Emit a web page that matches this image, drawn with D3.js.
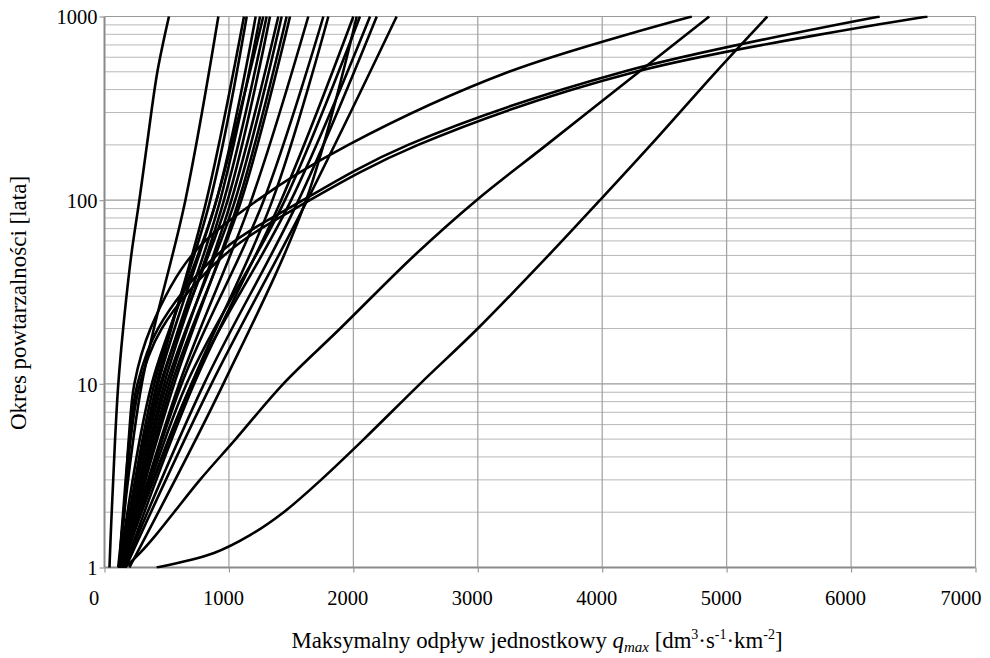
<!DOCTYPE html>
<html><head><meta charset="utf-8">
<script src="https://cdn.jsdelivr.net/npm/d3@7"></script>
<style>
body{margin:0;background:#fff}
svg{display:block}
text{font-family:"Liberation Serif","Times New Roman",serif;fill:#000}
</style>
</head><body>
<svg id="chart" width="990" height="658"></svg>
<script>
// Return period levels [years] at which discharge values were read
const returnPeriods = [1, 1.2, 1.5, 2, 3, 5, 10, 20, 50, 100, 200, 500, 1000];
const xTickValues = [0, 1000, 2000, 3000, 4000, 5000, 6000, 7000];
const yTickValues = [1, 10, 100, 1000];
const xTitleMain = "Maksymalny odpływ jednostkowy ";
const yTitle = "Okres powtarzalności [lata]";

// q_max values [dm3/s/km2] for each catchment at the return periods above (null = not read)
const qCurve01 = [40, null, 50, 58, 70, 85, 111, 150, 215, 280, 341, 425, 518];
const qCurve02 = [120, null, 140, 160, 175, 195, 240, 370, 700, 1230, 1960, 3250, 4720];
const qCurve03 = [120, null, 135, 150, 170, 200, 265, 430, 900, 1595, 2440, 4170, 6230];
const qCurve04 = [125, null, 140, 155, 180, 210, 285, 460, 960, 1650, 2520, 4270, 6614];
const qCurve05 = [165, 286, 412, 559, 767, 1054, 1437, 1894, 2490, 2990, 3553, 4297, 4860];
const qCurve06 = [419, 880, 1170, 1440, 1740, 2085, 2536, 3000, 3568, 3982, 4390, 4915, 5327];
const qCurve07 = [110, null, null, null, null, null, 300, null, null, 650, null, null, 915];
const qCurve08 = [120, null, null, null, null, null, 420, null, null, 820, null, null, 1121];
const qCurve09 = [130, null, null, null, null, null, 400, null, null, 850, null, null, 1143];
const qCurve10 = [120, null, null, null, null, null, 380, null, null, 900, null, null, 1215];
const qCurve11 = [140, null, null, null, null, null, 460, null, null, 930, null, null, 1250];
const qCurve12 = [130, null, null, null, null, null, 430, null, null, 900, null, null, 1276];
const qCurve13 = [150, null, null, null, null, null, 480, null, null, 960, null, null, 1303];
const qCurve14 = [120, null, null, null, null, null, 450, null, null, 990, null, null, 1330];
const qCurve15 = [140, null, null, null, null, null, 520, null, null, 1020, null, null, 1397];
const qCurve16 = [150, null, null, null, null, null, 500, null, null, 1050, null, null, 1424];
const qCurve17 = [130, null, null, null, null, null, 560, null, null, 1080, null, null, 1464];
const qCurve18 = [160, null, null, null, null, null, 540, null, null, 1100, null, null, 1491];
const qCurve19 = [140, null, null, null, null, null, 600, null, null, 1180, null, null, 1638];
const qCurve20 = [150, null, null, null, null, null, 620, null, null, 1280, null, null, 1759];
const qCurve21 = [130, null, null, null, null, null, 700, null, null, 1350, null, null, 1799];
const qCurve22 = [160, null, null, null, null, null, 720, null, null, 1420, null, null, 2000];
const qCurve23 = [200, null, null, null, null, null, 955, null, null, 1620, null, null, 2027];
const qCurve24 = [150, null, null, null, null, null, 660, null, null, 1450, null, null, 2053];
const qCurve25 = [140, null, null, null, null, null, 700, null, null, 1500, null, null, 2134];
const qCurve26 = [160, null, null, null, null, null, 800, null, null, 1560, null, null, 2188];
const qCurve27 = [170, null, null, null, null, null, 860, null, null, 1630, null, null, 2348];

const curves = [qCurve01,qCurve02,qCurve03,qCurve04,qCurve05,qCurve06,qCurve07,qCurve08,qCurve09,
  qCurve10,qCurve11,qCurve12,qCurve13,qCurve14,qCurve15,qCurve16,qCurve17,qCurve18,qCurve19,
  qCurve20,qCurve21,qCurve22,qCurve23,qCurve24,qCurve25,qCurve26,qCurve27];

const svg = d3.select("#chart");
const x = d3.scaleLinear().domain([0, 7000]).range([104.5, 975.5]);
const y = d3.scaleLog().domain([1, 1000]).range([567.5, 16.5]);

// horizontal minor grid
const minorY = [];
[1, 10, 100].forEach(d => { for (let k = 2; k <= 9; k++) minorY.push(d * k); });
svg.append("g").selectAll("line").data(minorY).join("line")
  .attr("x1", x(0)).attr("x2", x(7000))
  .attr("y1", d => y(d)).attr("y2", d => y(d))
  .attr("stroke", "#b8b8b8").attr("stroke-width", 1);
// major horizontal grid
svg.append("g").selectAll("line").data(yTickValues.slice(1)).join("line")
  .attr("x1", x(0)).attr("x2", x(7000))
  .attr("y1", d => y(d)).attr("y2", d => y(d))
  .attr("stroke", "#9a9a9a").attr("stroke-width", 1.2);
// vertical grid
svg.append("g").selectAll("line").data(xTickValues.slice(1)).join("line")
  .attr("x1", d => x(d)).attr("x2", d => x(d))
  .attr("y1", y(1)).attr("y2", y(1000))
  .attr("stroke", "#a0a0a0").attr("stroke-width", 1.2);

// axes
const xAxis = d3.axisBottom(x).tickValues(xTickValues).tickSize(5).tickFormat(d3.format("d"));
const gx = svg.append("g").attr("transform", `translate(0,${y(1)})`).call(xAxis);
gx.select(".domain").attr("stroke", "#8a8a8a").attr("stroke-width", 2).attr("d", `M${x(0)},0H${x(7000)}`);
gx.selectAll(".tick line").attr("stroke", "#9a9a9a").attr("stroke-width", 1.2);
gx.selectAll(".tick text").attr("font-size", 20.5).attr("y", 0).attr("dy", 37)
  .attr("dx", d => d === 0 ? -11 : (d === 7000 ? -15 : -6))
  .style("font-family", '"Liberation Serif", serif').attr("fill", "#000");

const yAxis = d3.axisLeft(y).tickValues(yTickValues).tickSize(5).tickFormat(d3.format("d"));
const gy = svg.append("g").attr("transform", `translate(${x(0)},0)`).call(yAxis);
gy.select(".domain").attr("stroke", "#8a8a8a").attr("stroke-width", 2).attr("d", `M0,${y(1)}V${y(1000)}`);
gy.selectAll(".tick line").attr("stroke", "#9a9a9a").attr("stroke-width", 1.2);
gy.selectAll(".tick text").attr("font-size", 20.5).attr("x", -7).attr("dy", "0.35em")
  .style("font-family", '"Liberation Serif", serif').attr("fill", "#000");

// curves
svg.append("clipPath").attr("id", "plotclip").append("rect")
  .attr("x", x(0)).attr("y", y(1000) - 1).attr("width", x(7000) - x(0)).attr("height", y(1) - y(1000) + 2);
const line = d3.line().x(d => x(d[0])).y(d => y(d[1])).curve(d3.curveCatmullRom.alpha(0.5));
svg.append("g").attr("clip-path", "url(#plotclip)").selectAll("path")
  .data(curves.map(c => c.map((q, i) => [q, returnPeriods[i]]).filter(p => p[0] !== null)))
  .join("path")
  .attr("d", line).attr("fill", "none").attr("stroke", "#000").attr("stroke-width", 2.6)
  .attr("stroke-linejoin", "round");

// titles
const xt = svg.append("text").attr("x", 537).attr("y", 648)
  .attr("text-anchor", "middle").attr("font-size", 22.8);
xt.append("tspan").text(xTitleMain);
xt.append("tspan").attr("font-style", "italic").text("q");
xt.append("tspan").attr("font-style", "italic").attr("font-size", 15).attr("dy", 4).text("max");
xt.append("tspan").attr("dy", -4).text(" [dm");
xt.append("tspan").attr("font-size", 14).attr("dy", -9).text("3");
xt.append("tspan").attr("dy", 9).text("·s");
xt.append("tspan").attr("font-size", 14).attr("dy", -9).text("-1");
xt.append("tspan").attr("dy", 9).text("·km");
xt.append("tspan").attr("font-size", 14).attr("dy", -9).text("-2");
xt.append("tspan").attr("dy", 9).text("]");

svg.append("text").attr("transform", `translate(26,303) rotate(-90)`)
  .attr("text-anchor", "middle").attr("font-size", 23).text(yTitle);
</script>
</body></html>
